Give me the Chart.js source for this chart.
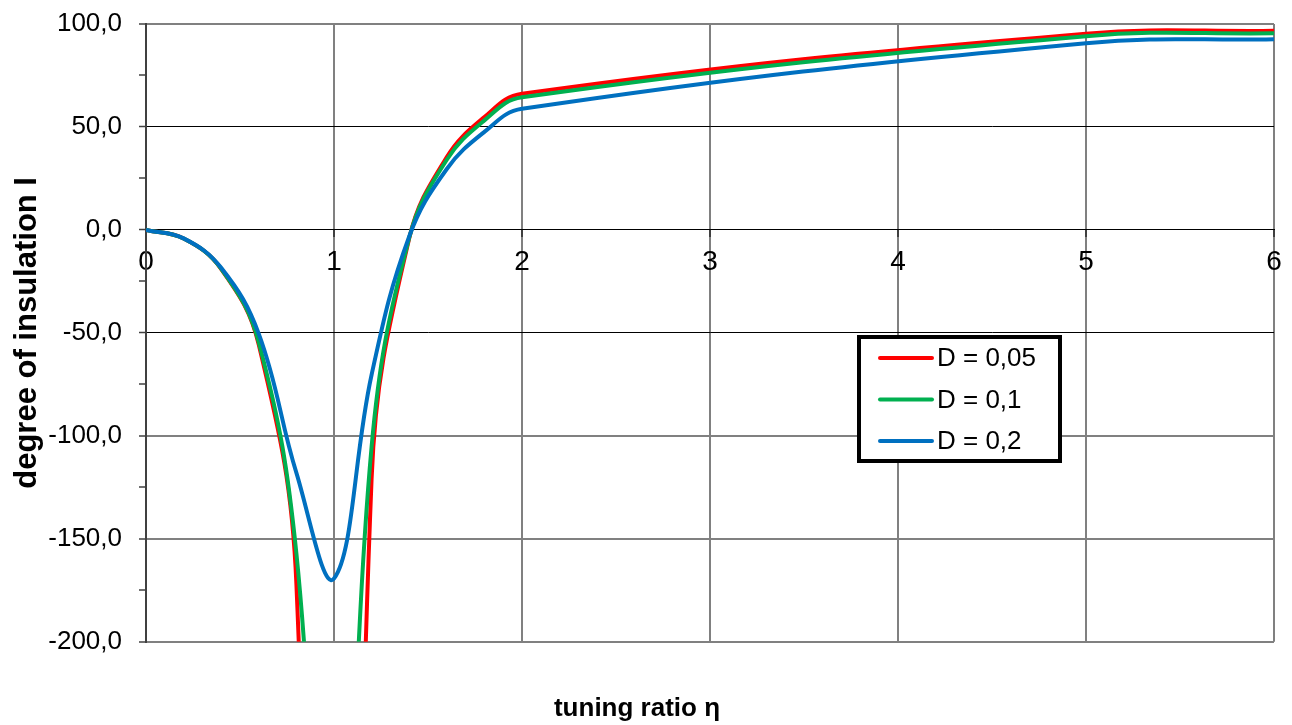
<!DOCTYPE html>
<html>
<head>
<meta charset="utf-8">
<script src="https://cdn.jsdelivr.net/npm/chart.js@4"></script>
<style>
  body { margin: 0; background: #fff; }
</style>
</head>
<body>
<canvas id="chart" width="1292" height="725"></canvas>
<script>
// tuning ratio (x) and degree of insulation I (%) for each damping value
const eta = [0, 0.2, 0.4, 0.6, 0.8, 1.0, 1.2, 1.4, 1.6, 1.8, 2.0, 5, 6];
const insD005 = [0, -4.2, -19.0, -55.8, -172.0, -905.0, -120.8, -4.1, 35.4, 54.8, 66.1, 95.3, 96.7];
const insD01 = [0, -4.2, -18.9, -54.7, -157.1, -409.9, -105.2, -3.8, 34.1, 53.2, 64.4, 94.1, 95.5];
const insD02 = [0, -4.1, -18.4, -50.5, -118.0, -169.3, -70.3, -3.1, 29.6, 47.6, 58.8, 90.7, 92.6];

const seriesLabels = ["D = 0,05", "D = 0,1", "D = 0,2"];
const seriesColors = ["#ff0000", "#00b050", "#0070c0"];

const FONT = "'Liberation Sans', Arial, sans-serif";

function toPoints(ys) {
  return eta.map((x, i) => ({ x: x, y: ys[i] }));
}

// legend box drawn inside the plot, like the original
const boxLegend = {
  id: "boxLegend",
  afterDraw(chart) {
    const ctx = chart.ctx;
    const left = 859, top = 337, w = 201, h = 124;
    ctx.save();
    ctx.fillStyle = "#fff";
    ctx.fillRect(left, top, w, h);
    ctx.lineWidth = 4;
    ctx.strokeStyle = "#000";
    ctx.strokeRect(left, top, w, h);
    ctx.font = "26px " + FONT;
    ctx.textBaseline = "middle";
    ctx.textAlign = "left";
    chart.data.datasets.forEach((ds, i) => {
      const y = top + 21 + i * 41.5;
      ctx.strokeStyle = ds.borderColor;
      ctx.lineWidth = 4;
      ctx.lineCap = "round";
      ctx.beginPath();
      ctx.moveTo(880, y);
      ctx.lineTo(932, y);
      ctx.stroke();
      ctx.fillStyle = "#000";
      ctx.fillText(ds.label, 937, y + 1);
    });
    ctx.restore();
  }
};

const datasets = [insD005, insD01, insD02].map((ys, i) => ({
  label: seriesLabels[i],
  data: toPoints(ys),
  borderColor: seriesColors[i],
  backgroundColor: seriesColors[i],
  borderWidth: 4,
  pointRadius: 0,
  tension: 0.4,
  fill: false,
  order: 3 - i,
  clip: { left: 0, right: 4, top: 4, bottom: 0 }
}));

new Chart(document.getElementById("chart"), {
  type: "line",
  data: { datasets },
  options: {
    responsive: false,
    animation: false,
    layout: { padding: { left: 0, right: 18, top: 24, bottom: 0 } },
    plugins: {
      legend: { display: false },
      tooltip: { enabled: false },
      title: {
        display: true,
        position: "bottom",
        text: "tuning ratio η",
        color: "#000",
        font: { family: FONT, size: 26, weight: "bold" },
        padding: { top: 51, bottom: 1 }
      }
    },
    scales: {
      x: {
        type: "linear",
        position: { y: 0 },
        min: 0,
        max: 6,
        afterFit(s) { s.height = 0; },
        ticks: {
          stepSize: 1,
          color: "#000",
          padding: 9,
          font: { family: FONT, size: 28 },
          maxRotation: 0
        },
        grid: {
          color: "#808080",
          lineWidth: 2,
          tickLength: 7,
          tickColor: "#404040",
          tickWidth: 2
        },
        border: { color: "#000", width: 1 }
      },
      y: {
        min: -200,
        max: 100,
        afterFit(s) {
          s.width = 146;
          s.paddingTop = 0;
          s.paddingBottom = 0;
        },
        ticks: {
          stepSize: 25,
          autoSkip: false,
          color: "#000",
          padding: 17,
          font: { family: FONT, size: 26 },
          callback: v => (v % 50 === 0 ? v.toFixed(1).replace(".", ",") : "")
        },
        grid: {
          color: c => {
            const v = c.tick.value;
            if (v % 50 !== 0) return "rgba(0,0,0,0)";
            return (v === 50 || v === 0 || v === -50) ? "#000" : "#808080";
          },
          lineWidth: c => {
            const v = c.tick.value;
            return (v === 50 || v === 0 || v === -50) ? 1 : 2;
          },
          tickLength: 7,
          tickColor: "#404040",
          tickWidth: 1.5
        },
        border: { color: "#404040", width: 2 },
        title: {
          display: true,
          text: "degree of insulation I",
          color: "#000",
          font: { family: FONT, size: 31, weight: "bold" },
          padding: { top: 9, bottom: 0 }
        }
      }
    }
  },
  plugins: [boxLegend]
});
</script>
</body>
</html>
